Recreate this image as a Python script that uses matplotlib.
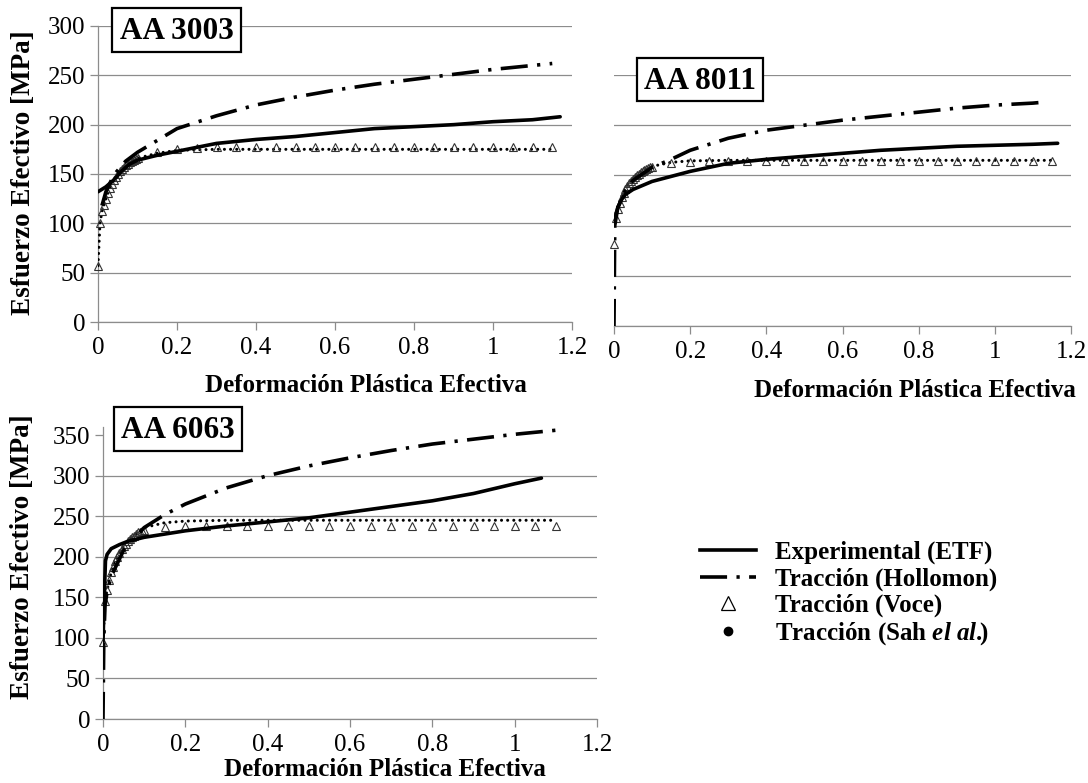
import matplotlib
matplotlib.use('Agg')
import matplotlib.pyplot as plt
from matplotlib.lines import Line2D
from matplotlib.patches import Rectangle

plt.rcParams['font.family'] = ['Liberation Serif', 'DejaVu Serif']
plt.rcParams['mathtext.fontset'] = 'custom'
plt.rcParams['mathtext.rm'] = 'Liberation Serif:bold'
plt.rcParams['mathtext.it'] = 'Liberation Serif:italic:bold'

# ---- data ----
x_ticks = [0, 0.2, 0.4, 0.6, 0.8, 1.0, 1.2]
x_tick_labels = ['0', '0.2', '0.4', '0.6', '0.8', '1', '1.2']

voce_strain = [0, 0.005, 0.01, 0.015, 0.02, 0.025, 0.03, 0.035, 0.04, 0.045, 0.05,
               0.055, 0.06, 0.065, 0.07, 0.075, 0.08, 0.085, 0.09, 0.095, 0.1,
               0.15, 0.2, 0.25, 0.3, 0.35, 0.4, 0.45, 0.5, 0.55, 0.6, 0.65,
               0.7, 0.75, 0.8, 0.85, 0.9, 0.95, 1.0, 1.05, 1.1, 1.15]
sah_strain = [0, 0.005, 0.01, 0.02, 0.03, 0.04, 0.05, 0.06, 0.07, 0.08, 0.09, 0.1,
              0.15, 0.2, 0.3, 0.4, 0.5, 0.6, 0.7, 0.8, 0.9, 1.0, 1.1, 1.15]

# AA 3003
aa3003_exp_x = [0, 0.02, 0.04, 0.06, 0.08, 0.1, 0.15, 0.2, 0.25, 0.3, 0.4, 0.5, 0.6,
                0.7, 0.8, 0.9, 1.0, 1.1, 1.17]
aa3003_exp_y = [132, 137, 144, 153, 160, 164, 169, 173, 177, 181, 185, 188, 192,
                196, 198, 200, 203, 205, 208]
aa3003_hol_x = [0.01, 0.02, 0.04, 0.07, 0.1, 0.2, 0.3, 0.4, 0.5, 0.6, 0.7, 0.8, 0.9,
                1.0, 1.1, 1.15]
aa3003_hol_y = [118, 132, 149, 163, 172, 196, 209, 220, 228, 235, 241, 246, 251,
                256, 260, 262]
aa3003_voce_y = [57, 100, 112, 119, 125, 131, 136, 140, 144, 147, 150, 153, 155, 157,
                 159, 160, 162, 163, 164, 165, 166,
                 172, 175.5, 176.5, 177, 177, 177, 177, 177, 177, 177, 177, 177, 177,
                 177, 177, 177, 177, 177, 177, 177, 177]
aa3003_sah_y = [57, 100, 112, 125, 136, 144, 150, 155, 159, 162, 164, 166,
                171, 174, 175, 175, 175, 175, 175, 175, 175, 175, 175, 175]

# AA 8011
aa8011_exp_x = [0, 0.01, 0.02, 0.03, 0.05, 0.1, 0.2, 0.3, 0.4, 0.5, 0.6, 0.7, 0.8,
                0.9, 1.0, 1.1, 1.165]
aa8011_exp_y = [104, 118, 126, 131, 136, 144, 154, 162, 166, 169, 172, 175, 177,
                179, 180, 181, 182]
aa8011_hol_x = [0, 0.002, 0.01, 0.03, 0.05, 0.1, 0.15, 0.2, 0.3, 0.4, 0.5, 0.6, 0.7,
                0.8, 0.9, 1.0, 1.1, 1.13]
aa8011_hol_y = [0, 100, 118, 135, 145, 158, 166, 175, 187, 195, 200, 205, 209,
                213, 217, 220, 222, 223]
aa8011_voce_y = [82, 108, 117, 123, 128, 132, 136, 139, 142, 144, 146, 148, 150, 151,
                 153, 154, 155, 156, 157, 158, 158.5,
                 162, 163.5, 164, 164, 164, 164, 164, 164, 164, 164, 164, 164, 164,
                 164, 164, 164, 164, 164, 164, 164, 164]
aa8011_sah_y = [100, 109, 118, 129, 136, 142, 146, 150, 153, 155, 157, 159,
                163, 164.5, 165, 165, 165, 165, 165, 165, 165, 165, 165, 165]

# AA 6063
aa6063_exp_x = [0, 0.003, 0.006, 0.01, 0.02, 0.04, 0.06, 0.1, 0.2, 0.3, 0.4, 0.5,
                0.6, 0.7, 0.8, 0.9, 1.0, 1.065]
aa6063_exp_y = [95, 150, 195, 203, 210, 215, 219, 224, 232, 238, 243, 248,
                255, 262, 269, 278, 290, 297]
aa6063_hol_x = [0, 0.002, 0.005, 0.01, 0.02, 0.05, 0.1, 0.15, 0.2, 0.3, 0.4, 0.5,
                0.6, 0.7, 0.8, 0.9, 1.0, 1.1]
aa6063_hol_y = [0, 100, 140, 157, 176, 208, 236, 252, 265, 285, 300, 312,
                322, 331, 339, 345, 351, 356]
aa6063_voce_y = [95, 146, 159, 171, 181, 188, 195, 200, 205, 209, 213, 216, 219, 222,
                 224, 226, 228, 230, 231, 232, 233,
                 237, 238, 238, 238, 238, 238, 238, 238, 238, 238, 238, 238, 238,
                 238, 238, 238, 238, 238, 238, 238]
aa6063_sah_y = [95, 146, 159, 181, 195, 205, 213, 219, 224, 228, 232, 236,
                242, 244, 245, 245, 245, 245, 245, 245, 245, 245, 245]

legend_labels = ['Experimental (ETF)', 'Tracción (Hollomon)', 'Tracción (Voce)',
                 'Tracción (Sah $\\mathit{el\\ al.}\\!\\!$)']

# ---- drawing ----
W, H = 1088, 783
fig = plt.figure(figsize=(W / 100, H / 100), dpi=100)
GRID = '#8c8c8c'
HOL_DASH = (0, (7.5, 2.6, 0.9, 2.6))
SAH_DOT = (0, (0.01, 2.0))


def px_axes(l, t, r, b):
    return fig.add_axes([l / W, 1 - b / H, (r - l) / W, (b - t) / H])


def draw_panel(ax, exp_x, exp_y, hol_x, hol_y, voce_x, voce_y, sah_x, sah_y,
               ymax, yticks, show_y=True):
    ax.plot(sah_x, sah_y, color='black', lw=2.2, ls=SAH_DOT,
            dash_capstyle='round', zorder=3)
    ax.plot(voce_x, voce_y, ls='none', marker='^', ms=5.8, mfc='none',
            mec='#333333', mew=0.8, zorder=4, clip_on=False)
    ax.plot(hol_x, hol_y, color='black', lw=2.6, ls=HOL_DASH, zorder=5)
    ax.plot(exp_x, exp_y, color='black', lw=2.6, solid_capstyle='round', zorder=6)

    ax.set_xlim(0, 1.2)
    ax.set_ylim(0, ymax)
    ax.set_xticks(x_ticks)
    ax.set_xticklabels(x_tick_labels)
    ax.set_yticks(yticks)
    ax.grid(axis='y', color=GRID, lw=0.9)
    ax.set_axisbelow(True)
    for s in ['top', 'right']:
        ax.spines[s].set_visible(False)
    for s in ['left', 'bottom']:
        ax.spines[s].set_color(GRID)
        ax.spines[s].set_linewidth(0.9)
    ax.tick_params(axis='x', color=GRID, length=6, width=0.9, labelsize=18, pad=5)
    ax.tick_params(axis='y', color=GRID, length=6, width=0.9, labelsize=18, pad=3)
    if not show_y:
        ax.spines['left'].set_visible(False)
        ax.tick_params(axis='y', length=0, labelleft=False)


def label_box(text, l, t, r, b):
    fig.add_artist(Rectangle((l / W, 1 - b / H), (r - l) / W, (b - t) / H,
                             transform=fig.transFigure, facecolor='white',
                             edgecolor='black', lw=1.6, zorder=10))
    fig.text((l + r) / 2 / W, 1 - (t + b) / 2 / H - 0.002, text, ha='center',
             va='center', fontsize=22.5, fontweight='bold', zorder=11)


XLABEL = 'Deformación Plástica Efectiva'
YLABEL = 'Esfuerzo Efectivo [MPa]'

# AA 3003
ax1 = px_axes(98, 26, 572, 322)
draw_panel(ax1, aa3003_exp_x, aa3003_exp_y, aa3003_hol_x, aa3003_hol_y,
           voce_strain, aa3003_voce_y, sah_strain, aa3003_sah_y,
           300, [0, 50, 100, 150, 200, 250, 300])
ax1.set_xlabel(XLABEL, fontsize=18, fontweight='bold', va='center')
ax1.xaxis.set_label_coords(0.565, -0.216)
ax1.set_ylabel(YLABEL, fontsize=19.5, fontweight='bold', va='center')
ax1.yaxis.set_label_coords(-0.158, 0.505)

# AA 8011
ax2 = px_axes(614, 75, 1071, 326)
draw_panel(ax2, aa8011_exp_x, aa8011_exp_y, aa8011_hol_x, aa8011_hol_y,
           voce_strain, aa8011_voce_y, sah_strain, aa8011_sah_y,
           250, [0, 50, 100, 150, 200, 250], show_y=False)
ax2.set_xlabel(XLABEL, fontsize=18, fontweight='bold', va='center')
ax2.xaxis.set_label_coords(0.658, -0.255)

# AA 6063
ax3 = px_axes(103, 427, 597, 719)
draw_panel(ax3, aa6063_exp_x, aa6063_exp_y, aa6063_hol_x, aa6063_hol_y,
           voce_strain[:-1], aa6063_voce_y, sah_strain[:-1], aa6063_sah_y,
           360, [0, 50, 100, 150, 200, 250, 300, 350])
ax3.yaxis.get_gridlines()[-1].set_visible(False)
ax3.set_xlabel(XLABEL, fontsize=18, fontweight='bold', va='center')
ax3.xaxis.set_label_coords(0.570, -0.1745)
ax3.set_ylabel(YLABEL, fontsize=19.5, fontweight='bold', va='center')
ax3.yaxis.set_label_coords(-0.1626, 0.555)

label_box('AA 3003', 112, 8, 241, 52)
label_box('AA 8011', 637, 58, 763, 101)
label_box('AA 6063', 114, 407, 242, 451)

handles = [
    Line2D([], [], color='black', lw=2.6),
    Line2D([], [], color='black', lw=2.6, ls=HOL_DASH),
    Line2D([], [], ls='none', marker='^', ms=10, mfc='none', mec='black', mew=0.9),
    Line2D([], [], ls='none', marker='o', ms=6, color='black'),
]
fig.legend(handles, legend_labels, loc='upper left',
           bbox_to_anchor=(700 / W, 1 - 541 / H), frameon=False,
           prop={'family': 'Liberation Serif', 'weight': 'bold', 'size': 18},
           handlelength=2.25, handletextpad=0.75, labelspacing=0.12,
           borderpad=0, borderaxespad=0)

fig.savefig('out.png', dpi=100)
